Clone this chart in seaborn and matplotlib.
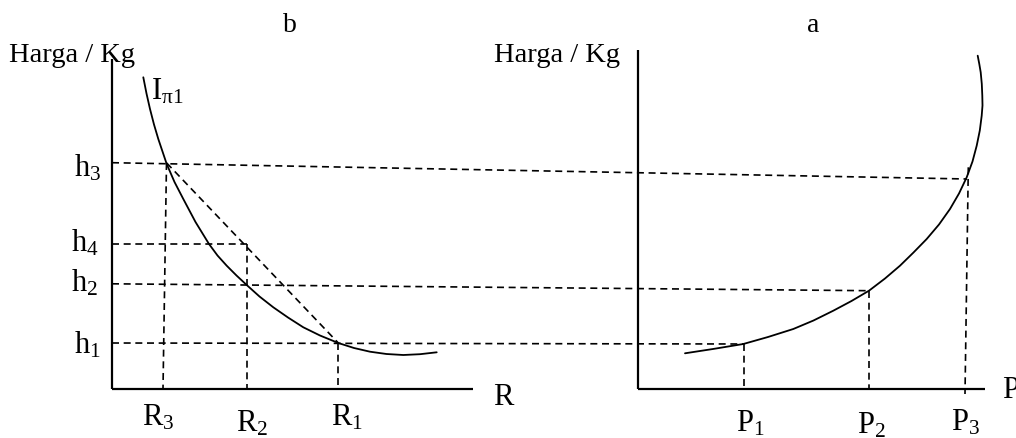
import matplotlib
matplotlib.use("Agg")
import matplotlib.pyplot as plt
import seaborn as sns

# ---------------------------------------------
# Data (pixel units, y down)
# ---------------------------------------------
# curve I_pi1 in panel b
curve_b_x = [143.3, 146.5, 150.0, 154.0, 158.3, 162.5, 166.7, 174.5, 183.3, 195.5,
             209.0, 217.5, 226.7, 236.5, 246.7, 259.5, 273.3, 288.0, 303.3, 320.0,
             338.3, 354.0, 370.0, 386.5, 403.3, 420.0, 436.7]
curve_b_y = [78.3, 94.5, 110.0, 125.5, 140.0, 152.5, 165.0, 183.0, 200.0, 223.0,
             245.0, 256.5, 266.7, 276.5, 286.0, 297.5, 308.3, 318.5, 328.3, 336.5,
             344.0, 349.0, 352.7, 355.0, 356.0, 355.2, 353.3]

# curve in panel a
curve_a_x = [685.0, 713.0, 743.3, 768.0, 793.3, 813.5, 833.3, 851.5, 869.0, 885.0,
             900.0, 913.5, 926.7, 939.0, 950.0, 959.0, 966.7, 972.5, 976.7, 979.8,
             981.7, 982.5, 982.3, 981.8, 980.7, 979.3, 977.7]
curve_a_y = [354.3, 350.0, 345.0, 338.0, 330.0, 321.5, 311.7, 302.0, 291.7, 279.5,
             266.7, 253.5, 240.0, 225.5, 210.0, 194.5, 178.3, 162.5, 146.7, 131.5,
             116.7, 106.5, 96.7, 85.0, 73.3, 65.0, 56.7]

# dashed guide segments: (x0, y0, x1, y1)
guide_segments = [
    (112, 163.7, 967, 180.0),    # h3 across both panels
    (112, 245.0, 247, 245.0),    # h4
    (112, 284.8, 869, 291.7),    # h2 across both panels
    (112, 344.0, 744, 345.0),    # h1 across both panels
    (166.7, 164.0, 338.3, 344.0),  # chord h3 -> h1
    (166.5, 164.0, 163.0, 390.0),  # R3
    (247.0, 245.0, 247.0, 390.0),  # R2
    (338.3, 344.0, 338.3, 390.0),  # R1
    (744.3, 345.0, 744.3, 390.0),  # P1
    (869.0, 291.7, 869.0, 390.0),  # P2
    (968.3, 168.3, 965.0, 395.0),  # P3
]

# axes lines: (x0, y0, x1, y1)
axis_segments = [
    (112, 60, 112, 390), (112, 390, 473, 390),
    (638, 51, 638, 390), (638, 390, 985, 390),
]

# text labels: (x_left, y_baseline, text, size)
labels = [
    (283, 32, "b", 20),
    (807, 32, "a", 20),
    (9, 62, "Harga / Kg", 20.5),
    (494, 62, "Harga / Kg", 20.5),
    (151, 100, r"$\mathrm{I}_{\mathrm{\pi 1}}$", 22),
    (74, 177, r"$\mathrm{h}_{3}$", 22),
    (71, 252, r"$\mathrm{h}_{4}$", 22),
    (71, 292, r"$\mathrm{h}_{2}$", 22),
    (74, 354, r"$\mathrm{h}_{1}$", 22),
    (142, 426, r"$\mathrm{R}_{3}$", 22),
    (236, 432, r"$\mathrm{R}_{2}$", 22),
    (331, 426, r"$\mathrm{R}_{1}$", 22),
    (493, 405, "R", 22),
    (736, 432, r"$\mathrm{P}_{1}$", 22),
    (857, 434, r"$\mathrm{P}_{2}$", 22),
    (951, 431, r"$\mathrm{P}_{3}$", 22),
    (1002, 398, "P", 22),
]

# ---------------------------------------------
# Theme
# ---------------------------------------------
sns.set_theme(style="white")
plt.rcParams["font.family"] = ["Liberation Serif", "DejaVu Serif"]
plt.rcParams["mathtext.fontset"] = "custom"
plt.rcParams["mathtext.rm"] = "Liberation Serif"
plt.rcParams["mathtext.it"] = "Liberation Serif:italic"
plt.rcParams["mathtext.bf"] = "Liberation Serif:bold"

fig, ax = plt.subplots(figsize=(10.16, 4.39), dpi=100)
ax.set_position([0, 0, 1, 1])
ax.set_xlim(0, 1016)
ax.set_ylim(439, 0)
ax.axis("off")

# axes of both panels
for x0, y0, x1, y1 in axis_segments:
    ax.plot([x0, x1], [y0, y1], color="black", lw=1.6, solid_capstyle="butt")

# dashed guides
for x0, y0, x1, y1 in guide_segments:
    ax.plot([x0, x1], [y0, y1], color="black", lw=1.2, dashes=(4.2, 2.8))

# curves
sns.lineplot(x=curve_b_x, y=curve_b_y, sort=False, estimator=None,
             color="black", lw=1.3, ax=ax)
sns.lineplot(x=curve_a_x, y=curve_a_y, sort=False, estimator=None,
             color="black", lw=1.3, ax=ax)

for x, y, txt, size in labels:
    ax.text(x, y, txt, fontsize=size, ha="left", va="baseline", color="black")

plt.savefig("out.png", dpi=100)
